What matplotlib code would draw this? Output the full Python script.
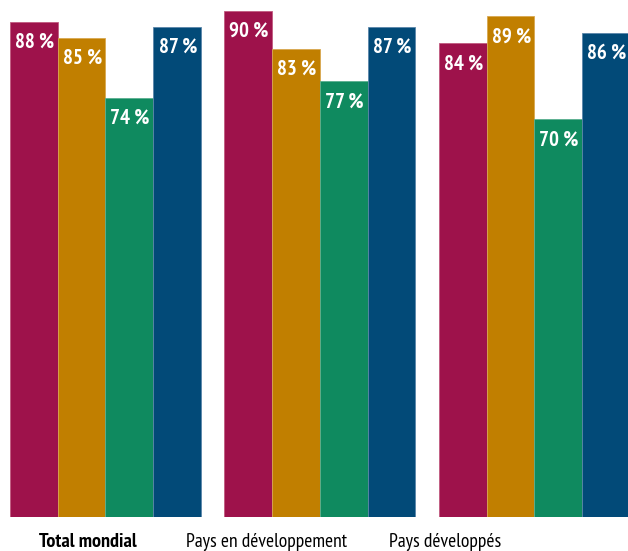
import matplotlib
matplotlib.use("Agg")
import matplotlib.pyplot as plt
import matplotlib.transforms as mtransforms
import numpy as np

# Data
groups = ["Total mondial", "Pays en développement", "Pays développés"]
series_a = [88, 90, 84]
series_b = [85, 83, 89]
series_c = [74, 77, 70]
series_d = [87, 87, 86]
series = [series_a, series_b, series_c, series_d]
colors = ["#9E124B", "#C17F00", "#0F8A5F", "#024A78"]
edge_colors = ["#C05A80", "#D9A850", "#5AAF8F", "#5A86AA"]

narrow = ["PT Sans Narrow", "DejaVu Sans"]

fig = plt.figure(figsize=(6.28, 5.51), dpi=100)
ax = fig.add_axes([0, 0.0622, 1, 0.9378])

base = -3.38
bar_w = 0.2225
x = np.arange(len(groups))

for i, (vals, col, ec) in enumerate(zip(series, colors, edge_colors)):
    vals = np.array(vals, dtype=float)
    xpos = x + (i - 1.5) * bar_w
    ax.bar(xpos, vals - base, bottom=base, width=bar_w, color=col,
           edgecolor=ec, linewidth=0.6)
    for xp, v in zip(xpos, vals):
        ax.text(xp + 0.004, v - 4.8, f"{int(v)} %", ha="center", va="baseline",
                color="white", fontsize=15, fontweight="bold", family=narrow)

ax.set_xlim(-0.491, 2.436)
ax.set_ylim(base, 92.0)
ax.axis("off")

# Category labels below the bars
label_x = [-0.081, 0.753, 1.583]
weights = ["bold", "normal", "normal"]
trans = mtransforms.blended_transform_factory(ax.transData, fig.transFigure)
for lx, g, w in zip(label_x, groups, weights):
    ax.text(lx, 0.0073, g, transform=trans, ha="center", va="baseline",
            fontsize=14.5 if w == "bold" else 14, fontweight=w,
            color="black", family=narrow)

fig.savefig("out.png", dpi=100)
